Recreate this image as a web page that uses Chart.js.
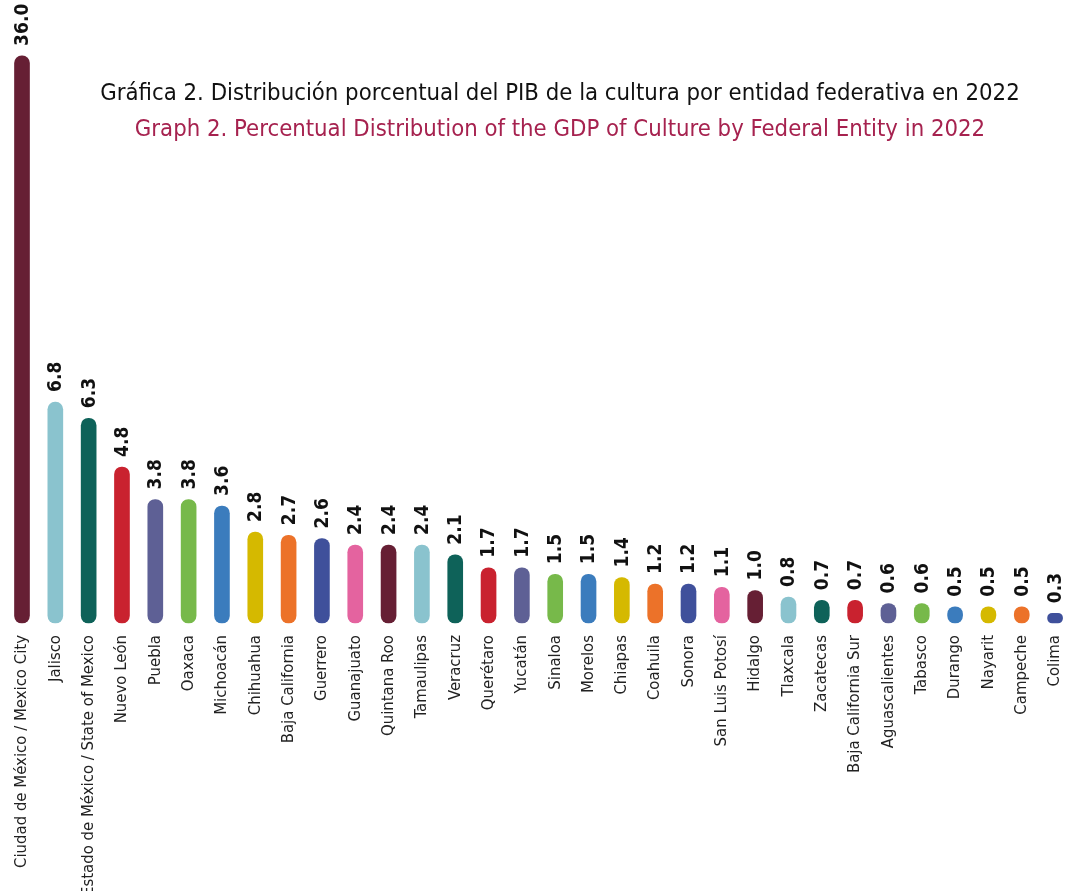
<!DOCTYPE html>
<html>
<head>
<meta charset="utf-8">
<script src="https://cdn.jsdelivr.net/npm/chart.js@4"></script>
<style>
  html, body { margin: 0; padding: 0; background: #fff; overflow: hidden; }
  #wrap { position: relative; width: 1079px; height: 891px; }
  .title { position: absolute; left: 0; width: 1120px; text-align: center;
           font-family: "DejaVu Sans Condensed", "Liberation Sans Narrow", Roboto, sans-serif;
           font-size: 23.7px; white-space: nowrap; }
  #t1 { top: 78px; color: #111; }
  #t2 { top: 114px; color: #a6224f; }
</style>
</head>
<body>
<div id="wrap">
  <canvas id="myChart" width="1079" height="891"></canvas>
  <div class="title" id="t1">Gráfica 2. Distribución porcentual del PIB de la cultura por entidad federativa en 2022</div>
  <div class="title" id="t2">Graph 2. Percentual Distribution of the GDP of Culture by Federal Entity in 2022</div>
</div>
<script>
const states = [
  "Ciudad de México / Mexico City", "Jalisco", "Estado de México / State of Mexico",
  "Nuevo León", "Puebla", "Oaxaca", "Michoacán", "Chihuahua", "Baja California",
  "Guerrero", "Guanajuato", "Quintana Roo", "Tamaulipas", "Veracruz", "Querétaro",
  "Yucatán", "Sinaloa", "Morelos", "Chiapas", "Coahuila", "Sonora", "San Luis Potosí",
  "Hidalgo", "Tlaxcala", "Zacatecas", "Baja California Sur", "Aguascalientes",
  "Tabasco", "Durango", "Nayarit", "Campeche", "Colima"
];
const shares = [
  36.0, 6.8, 6.3, 4.8, 3.8, 3.8, 3.6, 2.8, 2.7, 2.6, 2.4, 2.4, 2.4, 2.1, 1.7, 1.7,
  1.5, 1.5, 1.4, 1.2, 1.2, 1.1, 1.0, 0.8, 0.7, 0.7, 0.6, 0.6, 0.5, 0.5, 0.5, 0.3
];
const palette = [
  "#661f34", "#8ac3ce", "#0e6259", "#c9222f", "#5e6095", "#77b94a",
  "#3b7cbd", "#d5b900", "#ec7229", "#3f509b", "#e4639f"
];

// the axis is broken: the first bar is cut at this height
const CAP = 17.45;

const data = {
  labels: states,
  datasets: [{
    data: shares.map(v => Math.min(v, CAP)),
    backgroundColor: states.map((s, i) => palette[i % palette.length]),
    barThickness: 15,
    borderRadius: 8,
    borderSkipped: false,
    clip: false,
  }],
};

const valueLabels = {
  id: "valueLabels",
  afterDatasetsDraw(chart) {
    const ctx = chart.ctx;
    const meta = chart.getDatasetMeta(0);
    ctx.save();
    ctx.fillStyle = "#111";
    ctx.font = "bold 19px 'DejaVu Sans Condensed', 'Liberation Sans Narrow', Roboto, sans-serif";
    ctx.textAlign = "left";
    ctx.textBaseline = "middle";
    meta.data.forEach((bar, i) => {
      ctx.save();
      ctx.translate(bar.x + 1, bar.y - 10);
      ctx.rotate(-Math.PI / 2);
      ctx.fillText(shares[i].toFixed(1), 0, 0);
      ctx.restore();
    });
    ctx.restore();
  },
};

const config = {
  type: "bar",
  data: data,
  options: {
    responsive: false,
    animation: false,
    layout: { padding: { left: 22, right: 12, top: 0, bottom: 0 } },
    scales: {
      x: {
        offset: false,
        grid: { display: false },
        border: { display: false },
        ticks: {
          autoSkip: false,
          minRotation: 90,
          maxRotation: 90,
          padding: 4,
          color: "#222",
          font: { family: "'DejaVu Sans Condensed', 'Liberation Sans Narrow', Roboto, sans-serif", size: 16.6 },
        },
        afterFit: (scale) => { scale.height = 268; },
      },
      y: {
        display: false,
        min: 0,
        max: 19.17,
      },
    },
    plugins: {
      legend: { display: false },
      tooltip: { enabled: false },
    },
    events: [],
  },
  plugins: [valueLabels],
};

const myBarChart = new Chart(document.getElementById("myChart"), config);
</script>
</body>
</html>
